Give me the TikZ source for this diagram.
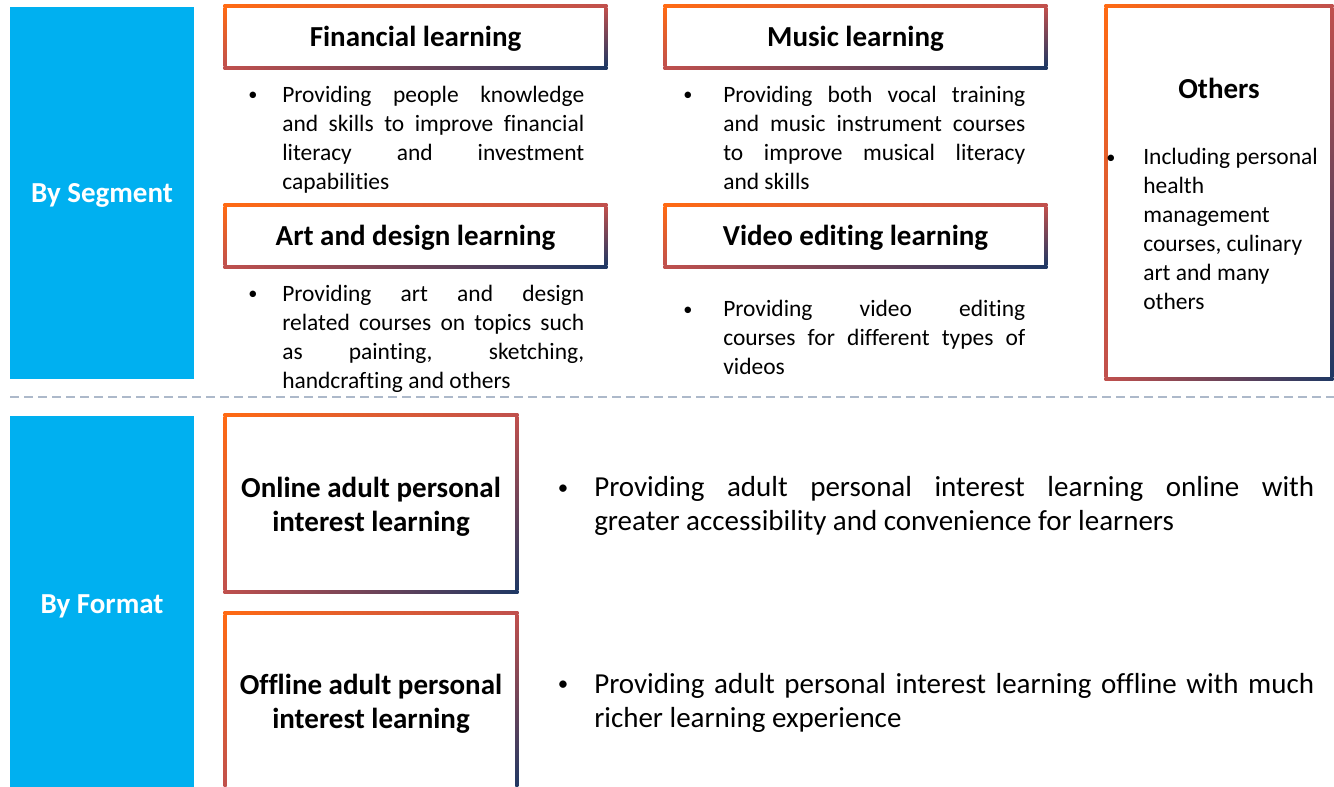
\documentclass[tikz,border=0pt]{standalone}
\usepackage{fontspec}
\setmainfont{Carlito}[Ligatures=CommonOff]
\definecolor{segblue}{HTML}{00B0F0}
\definecolor{gOr}{HTML}{FF6A13}
\definecolor{gMid}{HTML}{C0504D}
\definecolor{gNav}{HTML}{1F3864}
\definecolor{sepc}{HTML}{ADB9CA}
\newcommand{\myhfont}{\fontsize{21.75pt}{25.5pt}\selectfont\bfseries}
\newcommand{\mybodyA}{\fontsize{17.6pt}{21.75pt}\selectfont}
\newcommand{\mybodyB}{\fontsize{21.75pt}{25.6pt}\selectfont}
\newcommand{\mybulA}{\raisebox{1.1pt}{\scalebox{0.78}{•}}}
\newcommand{\mybulB}{\raisebox{1.6pt}{\scalebox{0.72}{•}}}
% gradient frame: each side shaded along its length (TL orange -> TR/BL red -> BR navy)
\newcommand{\gbox}[1]{%
  \shade[left color=gOr,right color=gMid]
    ([shift={(-1.125pt,1.125pt)}]#1.north west) rectangle ([shift={(1.125pt,-1.125pt)}]#1.north east);
  \shade[left color=gMid,right color=gNav]
    ([shift={(-1.125pt,1.125pt)}]#1.south west) rectangle ([shift={(1.125pt,-1.125pt)}]#1.south east);
  \shade[top color=gOr,bottom color=gMid]
    ([shift={(-1.125pt,-1.125pt)}]#1.north west) rectangle ([shift={(1.125pt,1.125pt)}]#1.south west);
  \shade[top color=gMid,bottom color=gNav]
    ([shift={(-1.125pt,-1.125pt)}]#1.north east) rectangle ([shift={(1.125pt,1.125pt)}]#1.south east);}
\begin{document}
\begin{tikzpicture}[x=0.75pt,y=-0.75pt,
  bar/.style={fill=segblue,text=white,font=\myhfont,inner sep=0pt,minimum width=138pt,
    text height=16pt,text depth=1.8pt},
  hbox/.style={inner sep=0pt,minimum width=285pt,minimum height=45.75pt,font=\myhfont,
    text height=16pt,text depth=1.8pt},
  tallbox/.style={inner sep=0pt,minimum width=218.25pt,minimum height=132pt},
  htext/.style={inner sep=0pt,font=\myhfont,align=center},
  bulA/.style={anchor=base,inner sep=0pt,font=\mybodyA},
  bulB/.style={anchor=base,inner sep=0pt,font=\mybodyB},
  txt/.style={anchor=base west,inner sep=0pt},
  sepline/.style={draw=sepc,line width=1.5pt,dash pattern=on 6.75pt off 3.75pt}]
\useasboundingbox (0,0) rectangle (1334,786);
\fill[white] (0,0) rectangle (1334,786);

% left bars
\node[bar,minimum height=279pt] (segbar) at (102,193) {By Segment};
\node[bar,minimum height=282pt] (fmtbar) at (102,604) {By Format};

% separator
\coordinate (sepL) at (10,397);
\coordinate (sepR) at (1334,397);
\draw[sepline] (sepL) -- (sepR);

% segment header boxes
\node[hbox] (fin) at (415.5,37) {Financial learning};
\node[hbox] (mus) at (855.5,37) {Music learning};
\node[hbox] (art) at (415.5,236) {Art and design learning};
\node[hbox] (vid) at (855.5,236) {Video editing learning};
\node[inner sep=0pt,minimum width=168.75pt,minimum height=279pt] (oth) at (1219,192.5) {};
\gbox{fin}\gbox{mus}\gbox{art}\gbox{vid}\gbox{oth}

% segment descriptions
\node[bulA] (finb) at (253,102) {\mybulA};
\node[txt] (fint) at (282,102) {\parbox[t]{226.5pt}{\mybodyA Providing people knowledge\linebreak and skills to improve financial\linebreak literacy and investment\linebreak capabilities}};
\node[bulA] (musb) at (688,102) {\mybulA};
\node[txt] (must) at (723,102) {\parbox[t]{226.5pt}{\mybodyA Providing both vocal training\linebreak and music instrument courses\linebreak to improve musical literacy\linebreak and skills}};
\node[bulA] (artb) at (253,301) {\mybulA};
\node[txt] (artt) at (282,301) {\parbox[t]{226.5pt}{\mybodyA Providing art and design\linebreak related courses on topics such\linebreak as painting, sketching,\linebreak handcrafting and others}};
\node[bulA] (vidb) at (688,316.5) {\mybulA};
\node[txt] (vidt) at (723,316.5) {\parbox[t]{226.5pt}{\mybodyA Providing video editing\linebreak courses for different types of\linebreak videos}};
\node[anchor=base,inner sep=0pt,font=\myhfont] (otht) at (1219,98.5) {Others};
\node[bulA] (othb) at (1111,164.5) {\mybulA};
\node[txt] (othd) at (1143,164.5) {\parbox[t]{150pt}{\raggedright\mybodyA Including personal\\health\\management\\courses, culinary\\art and many\\others}};

% format boxes
\node[tallbox] (onl) at (371,503.5) {};
\node[tallbox] (off) at (371,701) {};
\gbox{onl}\gbox{off}
\node[htext] (onlh) at (371,506.5) {Online adult personal\\interest learning};
\node[htext] (offh) at (371,703.5) {Offline adult personal\\interest learning};

\node[bulB] (onlb) at (563,496.5) {\mybulB};
\node[txt] (onlt) at (594,496.5) {\parbox[t]{540pt}{\mybodyB Providing adult personal interest learning online with\linebreak greater accessibility and convenience for learners}};
\node[bulB] (offb) at (563,693) {\mybulB};
\node[txt] (offt) at (594,693) {\parbox[t]{540pt}{\mybodyB Providing adult personal interest learning offline with much\linebreak richer learning experience}};
\end{tikzpicture}
\end{document}
